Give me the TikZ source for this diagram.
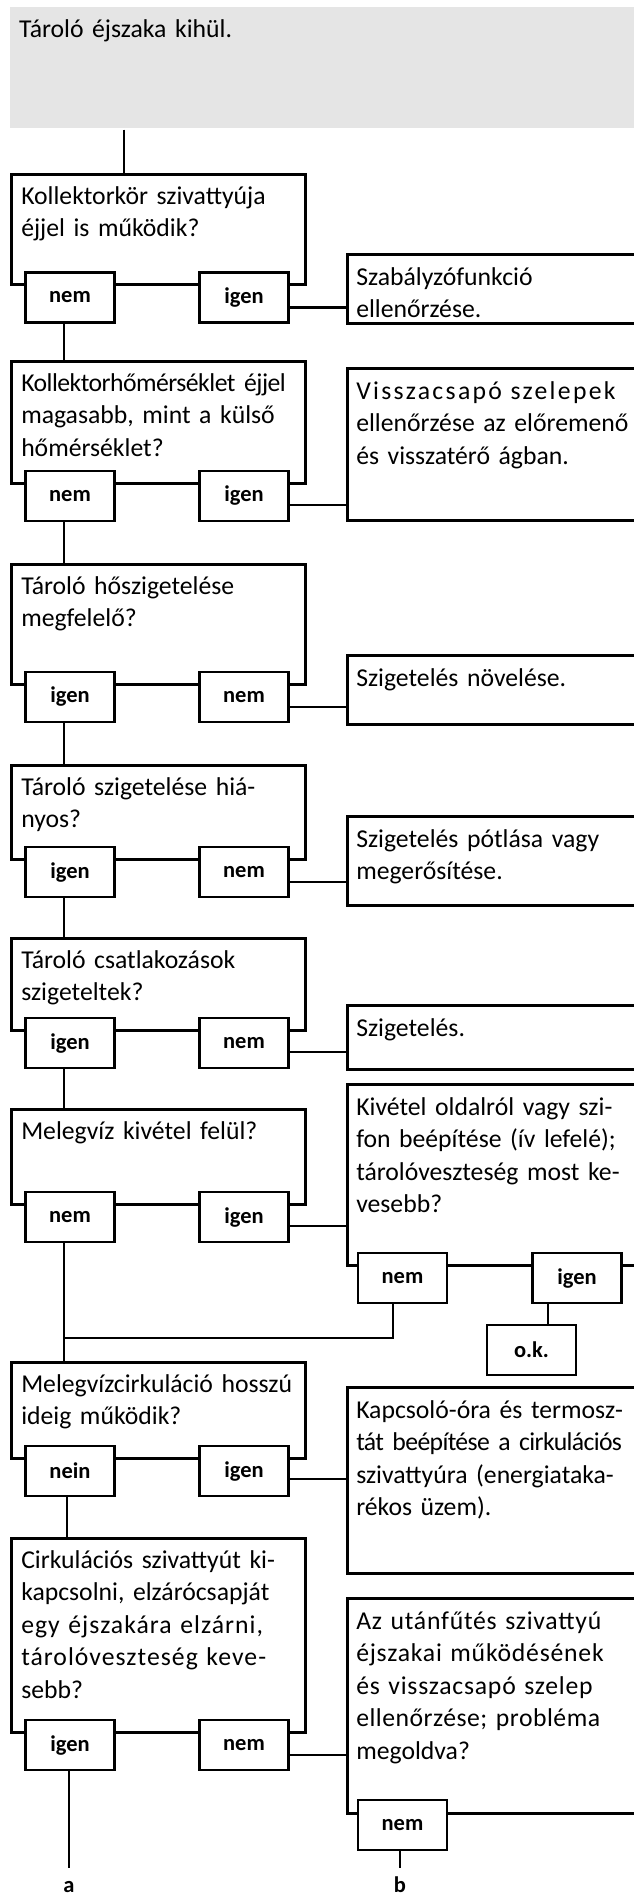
\documentclass[tikz,border=0pt]{standalone}
\usepackage{fontspec}
\setmainfont{Carlito}
\usetikzlibrary{positioning}

\newcommand{\jl}[1]{\makebox[\linewidth][s]{#1}}
\newcommand{\ls}[2]{\makebox[\linewidth][s]{\addfontfeature{LetterSpace=#1}#2}}

\begin{document}
\begin{tikzpicture}[x=1pt,y=1pt,line width=2.5pt,
  frame/.style={draw,inner sep=0pt,anchor=north west},
  qframe/.style={frame,minimum width=294pt},
  rframe/.style={frame,minimum width=300pt},
  txt/.style={anchor=north west,inner sep=0pt,align=left,
    font=\fontsize{25.7}{32.5}\selectfont,
    execute at begin node={\rule{0pt}{23pt}}},
  qtxt/.style={txt,text width=277pt},
  rtxt/.style={txt,text width=274pt},
  lbl/.style={draw,fill=white,minimum width=89pt,minimum height=50pt,
    inner sep=0pt,font=\fontsize{22.5}{24}\selectfont\bfseries}]
\useasboundingbox (0,0) rectangle (634,-1896);
\coordinate (xs) at (124,0);
\coordinate (xl) at (64,0);
\coordinate (xn) at (67,0);
\coordinate (xr) at (393,0);
\coordinate (xo) at (548,0);
\coordinate (jn) at (64,-1338);
\coordinate (enda) at (69,-1868);
\coordinate (endb) at (400,-1868);

\node[anchor=north west,fill=black!10,minimum width=640pt,minimum height=121pt,
  inner sep=0pt] (start) at (9,-6) {};
\node[qtxt] (startt) at ([shift={(9pt,-7pt)}]start.north west) {Tároló éjszaka kihül.};

% questions
\node[qframe,minimum height=110pt] (q1) at (10,-173) {};
\node[qframe,minimum height=122pt] (q2) at (10,-360) {};
\node[qframe,minimum height=120pt] (q3) at (10,-563) {};
\node[qframe,minimum height=94pt] (q4) at (10,-764) {};
\node[qframe,minimum height=92pt] (q5) at (10,-937) {};
\node[qframe,minimum height=95pt] (q6) at (10,-1108) {};
\node[qframe,minimum height=96pt] (q7) at (10,-1361) {};
\node[qframe,minimum height=194pt] (q8) at (10,-1537) {};

\node[qtxt] (q1t) at ([shift={(10pt,-7pt)}]q1.north west)
  {Kollektorkör szivattyúja\\éjjel is működik?};
\node[qtxt] (q2t) at ([shift={(10pt,-7pt)}]q2.north west)
  {\ls{-2}{Kollektorhőmérséklet éjjel}\\\jl{magasabb, mint a külső}\\hőmérséklet?};
\node[qtxt] (q3t) at ([shift={(10pt,-7pt)}]q3.north west)
  {Tároló hőszigetelése\\megfelelő?};
\node[qtxt] (q4t) at ([shift={(10pt,-7pt)}]q4.north west)
  {Tároló szigetelése hiá-\\nyos?};
\node[qtxt] (q5t) at ([shift={(10pt,-7pt)}]q5.north west)
  {Tároló csatlakozások\\szigeteltek?};
\node[qtxt] (q6t) at ([shift={(10pt,-7pt)}]q6.north west)
  {Melegvíz kivétel felül?};
\node[qtxt] (q7t) at ([shift={(10pt,-7pt)}]q7.north west)
  {\jl{Melegvízcirkuláció hosszú}\\ideig működik?};
\node[qtxt] (q8t) at ([shift={(10pt,-7pt)}]q8.north west)
  {\jl{Cirkulációs szivattyút ki-}\\\jl{kapcsolni, elzárócsapját}\\
   \ls{4}{egy éjszakára elzárni,}\\\ls{4}{tárolóveszteség keve-}\\sebb?};

% remedies
\node[rframe,minimum height=69pt] (r1) at (346,-253) {};
\node[rframe,minimum height=152pt] (r2) at (346,-367) {};
\node[rframe,minimum height=69pt] (r3) at (346,-654) {};
\node[rframe,minimum height=89pt] (r4) at (346,-815) {};
\node[rframe,minimum height=64pt] (r5) at (346,-1004) {};
\node[rframe,minimum height=181pt] (r6) at (346,-1083) {};
\node[rframe,minimum height=186pt] (r7) at (346,-1386) {};
\node[rframe,minimum height=215pt] (r8) at (346,-1597) {};

\node[rtxt] (r1t) at ([shift={(9pt,-8pt)}]r1.north west)
  {Szabályzófunkció\\ellenőrzése.};
\node[rtxt] (r2t) at ([shift={(9pt,-8pt)}]r2.north west)
  {\ls{9}{Visszacsapó szelepek}\\\jl{ellenőrzése az előremenő}\\és visszatérő ágban.};
\node[rtxt] (r3t) at ([shift={(9pt,-8pt)}]r3.north west)
  {Szigetelés növelése.};
\node[rtxt] (r4t) at ([shift={(9pt,-8pt)}]r4.north west)
  {\jl{Szigetelés pótlása vagy}\\megerősítése.};
\node[rtxt] (r5t) at ([shift={(9pt,-8pt)}]r5.north west)
  {Szigetelés.};
\node[rtxt] (r6t) at ([shift={(9pt,-8pt)}]r6.north west)
  {\jl{Kivétel oldalról vagy szi-}\\\jl{fon beépítése (ív lefelé);}\\
   \jl{tárolóveszteség most ke-}\\vesebb?};
\node[rtxt] (r7t) at ([shift={(9pt,-8pt)}]r7.north west)
  {\jl{Kapcsoló-óra és termosz-}\\\ls{-2.5}{tát beépítése a cirkulációs}\\
   \jl{szivattyúra (energiataka-}\\rékos üzem).};
\node[rtxt] (r8t) at ([shift={(9pt,-8pt)}]r8.north west)
  {\ls{3}{Az utánfűtés szivattyú}\\\ls{3}{éjszakai működésének}\\
   \ls{3}{és visszacsapó szelep}\\\ls{2}{ellenőrzése; probléma}\\megoldva?};

% answers
\node[lbl] (q1no) at (70,-297.5) {nem};
\node[lbl] (q1yes) at (244,-297.5) {igen};
\node[lbl] (q2no) at (70,-496) {nem};
\node[lbl] (q2yes) at (244,-496) {igen};
\node[lbl] (q3yes) at (70,-697) {igen};
\node[lbl] (q3no) at (244,-697) {nem};
\node[lbl] (q4yes) at (70,-872) {igen};
\node[lbl] (q4no) at (244,-872) {nem};
\node[lbl] (q5yes) at (70,-1043) {igen};
\node[lbl] (q5no) at (244,-1043) {nem};
\node[lbl] (q6no) at (70,-1217) {nem};
\node[lbl] (q6yes) at (244,-1217) {igen};
\node[lbl] (q7no) at (70,-1471) {nein};
\node[lbl] (q7yes) at (244,-1471) {igen};
\node[lbl] (q8yes) at (70,-1745) {igen};
\node[lbl] (q8no) at (244,-1745) {nem};
\node[lbl] (r6no) at (402.5,-1278) {nem};
\node[lbl] (r6yes) at (577,-1278) {igen};
\node[lbl] (r8no) at (402.5,-1825) {nem};
\node[lbl,minimum width=89pt,minimum height=50pt] (ok) at (531.5,-1350) {o.k.};

\node[anchor=base,font=\fontsize{22.5}{24}\selectfont\bfseries] (a) at (69,-1892) {a};
\node[anchor=base,font=\fontsize{22.5}{24}\selectfont\bfseries] (b) at (400,-1892) {b};

% links
\draw (start.south -| xs) -- (q1.north -| xs);
\draw (q1no.south -| xl) -- (q2.north -| xl);
\draw (q2no.south -| xl) -- (q3.north -| xl);
\draw (q3yes.south -| xl) -- (q4.north -| xl);
\draw (q4yes.south -| xl) -- (q5.north -| xl);
\draw (q5yes.south -| xl) -- (q6.north -| xl);
\draw (q6no.south -| xl) -- (q7.north -| xl);
\draw (r6no.south -| xr) |- (jn);
\draw (r6yes.south -| xo) -- (ok.north -| xo);
\draw (q7no.south -| xn) -- (q8.north -| xn);
\draw (q8yes.south -| enda) -- (enda);
\draw (r8no.south -| endb) -- (endb);

\draw ([yshift=-10pt]q1yes.east) -- ([yshift=-10pt]q1yes.east -| r1.west);
\draw ([yshift=-9pt]q2yes.east) -- ([yshift=-9pt]q2yes.east -| r2.west);
\draw ([yshift=-10pt]q3no.east) -- ([yshift=-10pt]q3no.east -| r3.west);
\draw ([yshift=-10pt]q4no.east) -- ([yshift=-10pt]q4no.east -| r4.west);
\draw ([yshift=-9pt]q5no.east) -- ([yshift=-9pt]q5no.east -| r5.west);
\draw ([yshift=-9pt]q6yes.east) -- ([yshift=-9pt]q6yes.east -| r6.west);
\draw ([yshift=-8pt]q7yes.east) -- ([yshift=-8pt]q7yes.east -| r7.west);
\draw ([yshift=-10pt]q8no.east) -- ([yshift=-10pt]q8no.east -| r8.west);
\end{tikzpicture}
\end{document}
